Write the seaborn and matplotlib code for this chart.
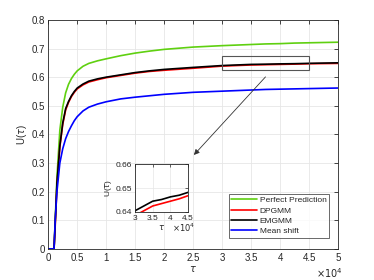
import numpy as np
import pandas as pd
import matplotlib
matplotlib.use("Agg")
import matplotlib.pyplot as plt
import seaborn as sns
from matplotlib.patches import Rectangle

# Datos
tau = [0, 1000, 1200, 1500, 2000, 2500, 3000, 3500, 4000, 4500, 5000, 6000,
       7000, 8500, 10000, 12500, 15000, 17500, 20000, 25000, 30000, 32500,
       35000, 37500, 40000, 42500, 45000, 50000]
perfect = [0, 0, 0.10, 0.25, 0.415, 0.495, 0.545, 0.575, 0.595, 0.610, 0.622,
           0.638, 0.648, 0.657, 0.664, 0.675, 0.684, 0.691, 0.697, 0.705, 0.710,
           0.712, 0.714, 0.716, 0.717, 0.719, 0.720, 0.722]
dpgmm = [0, 0, 0.08, 0.22, 0.355, 0.435, 0.485, 0.512, 0.532, 0.547, 0.559,
         0.573, 0.583, 0.591, 0.598, 0.606, 0.614, 0.620, 0.624, 0.631, 0.6385,
         0.6405, 0.6425, 0.6435, 0.6445, 0.6455, 0.6468, 0.648]
emgmm = [0, 0, 0.09, 0.23, 0.36, 0.44, 0.49, 0.515, 0.535, 0.550, 0.562,
         0.576, 0.586, 0.594, 0.600, 0.608, 0.616, 0.622, 0.627, 0.634, 0.6405,
         0.6425, 0.6445, 0.6452, 0.6463, 0.6470, 0.6482, 0.650]
meanshift = [0, 0, 0.10, 0.20, 0.30, 0.35, 0.385, 0.410, 0.430, 0.448, 0.462,
             0.482, 0.495, 0.506, 0.514, 0.524, 0.530, 0.535, 0.540, 0.547, 0.551,
             0.553, 0.555, 0.557, 0.558, 0.559, 0.560, 0.562]

series = ["Perfect Prediction", "DPGMM", "EMGMM", "Mean shift"]
colores = {"Perfect Prediction": "#5fd010", "DPGMM": "#ff0000",
           "EMGMM": "#000000", "Mean shift": "#0000ff"}

xt = np.arange(0, 50001, 5000)
xt_labels = ["0", "0.5", "1", "1.5", "2", "2.5", "3", "3.5", "4", "4.5", "5"]
yt = np.arange(0, 0.81, 0.1)
yt_labels = ["0", "0.1", "0.2", "0.3", "0.4", "0.5", "0.6", "0.7", "0.8"]

df = pd.concat([
    pd.DataFrame({"tau": tau, "U": vals, "metodo": name})
    for name, vals in zip(series, [perfect, dpgmm, emgmm, meanshift])
])

sns.set_theme(style="whitegrid")
plt.rcParams["font.family"] = ["Liberation Sans", "DejaVu Sans"]
plt.rcParams["mathtext.fontset"] = "dejavusans"

gris = "#262626"
fig = plt.figure(figsize=(3.74, 2.8), dpi=100)
ax = fig.add_axes([0.129, 0.111, 0.775, 0.818])
sns.lineplot(data=df, x="tau", y="U", hue="metodo", hue_order=series,
             palette=colores, linewidth=1.2, ax=ax, legend=False)

ax.set_xlim(0, 50000)
ax.set_ylim(0, 0.8)
ax.set_xticks(xt)
ax.set_xticklabels(xt_labels)
ax.set_yticks(yt)
ax.set_yticklabels(yt_labels)
ax.tick_params(direction="in", top=True, right=True, labelsize=7, colors=gris,
               length=3, width=0.6, pad=2)
ax.tick_params(axis="x", pad=3)
ax.set_xlabel(r"$\tau$", fontsize=7, color=gris, labelpad=1)
ax.set_ylabel(r"U($\tau$)", fontsize=7, color=gris, labelpad=2)
ax.grid(color="#e6e6e6", linewidth=0.6)
for s in ax.spines.values():
    s.set_color(gris)
    s.set_linewidth(0.6)
fig.text(0.915, 0.025, r"$\times10^4$", fontsize=7, color=gris,
         ha="right", va="center")

# Rectangulo de zoom y flecha
ax.add_patch(Rectangle((30000, 0.625), 15000, 0.05, fill=False,
                       edgecolor="#555555", linewidth=0.8, zorder=5))
ax.annotate("", xy=(24800, 0.321), xytext=(37800, 0.608),
            arrowprops=dict(arrowstyle="-|>", color="#333333", lw=0.6,
                            mutation_scale=8))

# Leyenda
handles = [plt.Line2D([], [], color=colores[s], lw=1.2) for s in series]
leg = ax.legend(handles, series, loc="lower right", fontsize=6,
                frameon=True, fancybox=False, handlelength=3.1,
                borderpad=0.3, labelspacing=0.3, handletextpad=0.3,
                bbox_to_anchor=(0.983, 0.03))
leg.get_frame().set_edgecolor(gris)
leg.get_frame().set_linewidth(0.6)
for t in leg.get_texts():
    t.set_color(gris)

# Grafico insertado
axi = fig.add_axes([0.361, 0.243, 0.142, 0.171])
sub = df[df["metodo"].isin(["DPGMM", "EMGMM"])]
sns.lineplot(data=sub, x="tau", y="U", hue="metodo",
             hue_order=["DPGMM", "EMGMM"], palette=colores, linewidth=1.2,
             ax=axi, legend=False)
axi.set_xlim(30000, 45000)
axi.set_ylim(0.64, 0.66)
axi.set_xticks([30000, 35000, 40000, 45000])
axi.set_xticklabels(["3", "3.5", "4", "4.5"])
axi.set_yticks([0.64, 0.65, 0.66])
axi.set_yticklabels(["0.64", "0.65", "0.66"])
axi.tick_params(direction="in", top=True, right=True, labelsize=6, colors=gris,
                length=2, width=0.5, pad=2)
axi.set_xlabel(r"$\tau$", fontsize=6, color=gris, labelpad=1)
axi.set_ylabel(r"U($\tau$)", fontsize=6, color=gris, labelpad=1)
axi.text(0.70, -0.34, r"$\times10^4$", transform=axi.transAxes, fontsize=6,
         color=gris, ha="left", va="center")
axi.grid(color="#e6e6e6", linewidth=0.5)
for s in axi.spines.values():
    s.set_color(gris)
    s.set_linewidth(0.6)

fig.savefig("out.png", dpi=100)
